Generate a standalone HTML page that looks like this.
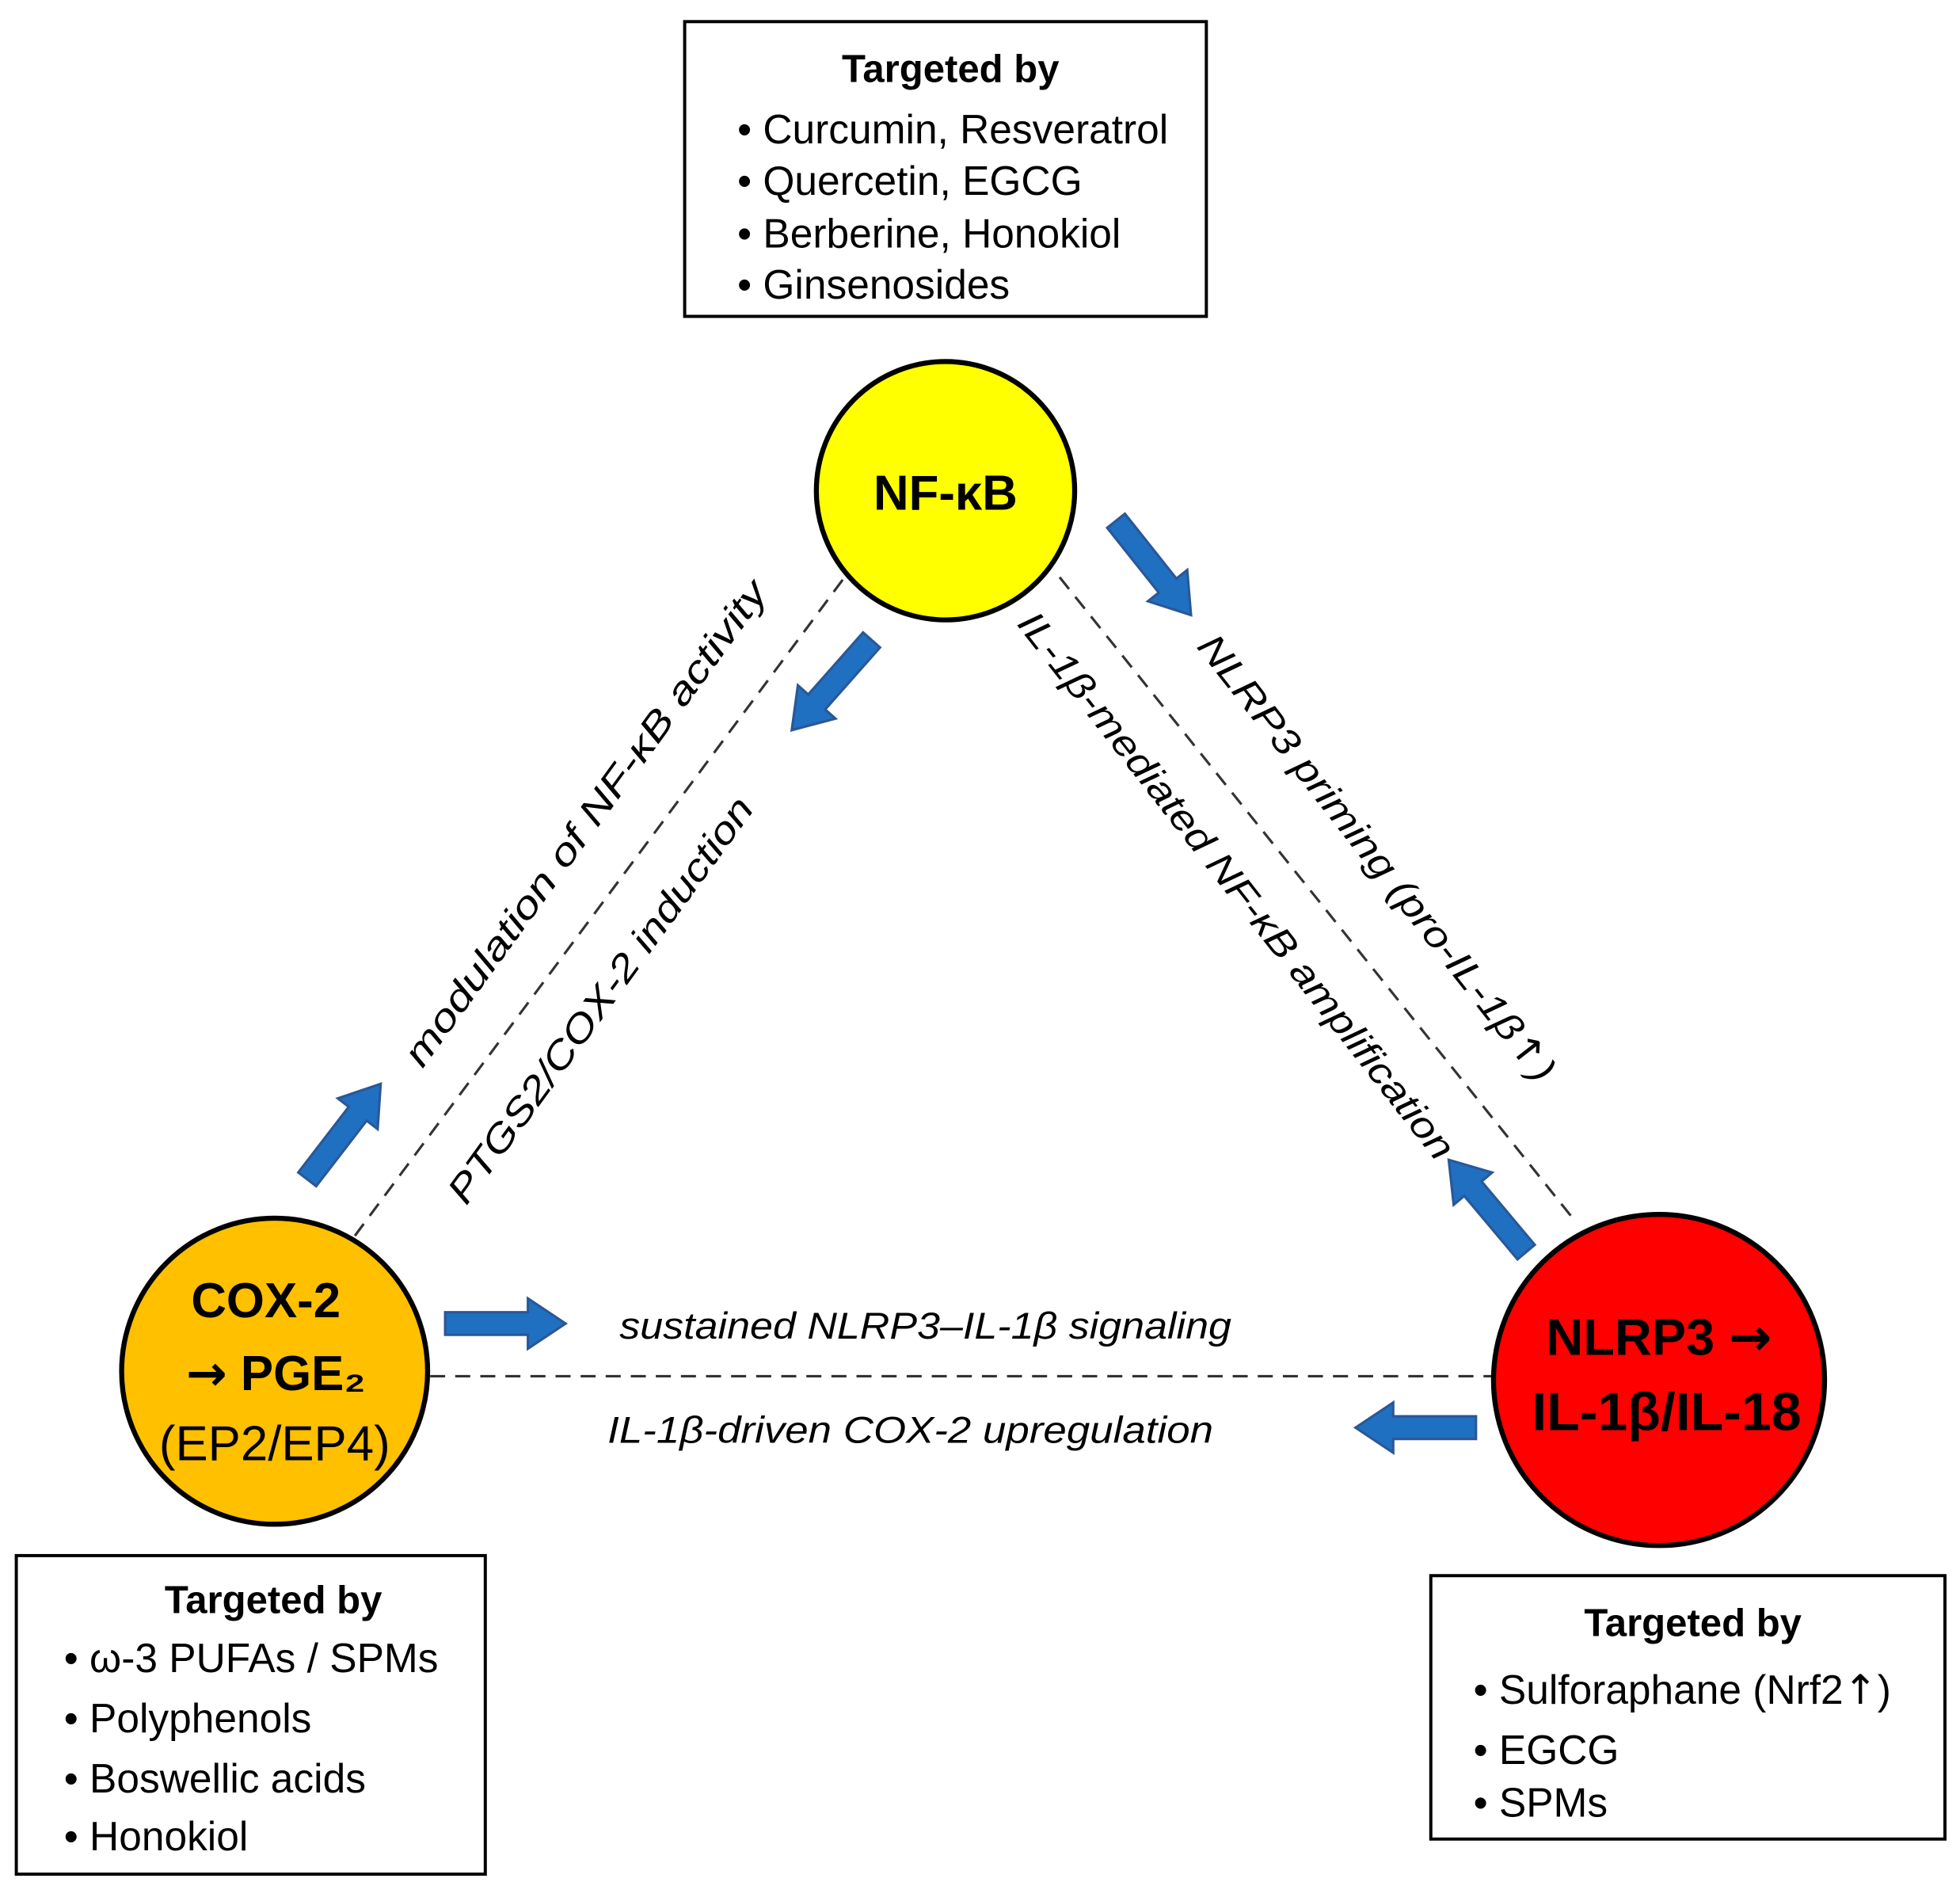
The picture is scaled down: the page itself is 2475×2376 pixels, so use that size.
<!DOCTYPE html>
<html><head><meta charset="utf-8"><style>
html,body{margin:0;padding:0;background:#fff}
svg{display:block}
text{font-family:"Liberation Sans","DejaVu Sans",sans-serif;fill:#000}
.it{font-style:italic;font-size:30px}
.bx{font-size:32.5px}
.tt{font-size:31px;font-weight:bold}
.dv{font-family:"DejaVu Sans",sans-serif}
</style></head><body>
<svg width="2475" height="2376" viewBox="0 0 1563 1500" xmlns="http://www.w3.org/2000/svg">
<defs>
<path id="ar" d="M0,-9 L66,-9 L66,-20 L96,0 L66,20 L66,9 L0,9 Z" fill="#1F70C1" stroke="#2B5797" stroke-width="2"/>
</defs>
<g stroke="#333" stroke-width="2" stroke-dasharray="12,8" fill="none">
<line x1="672" y1="462" x2="283" y2="985"/>
<line x1="845" y1="460" x2="1255" y2="972"/>
<line x1="343" y1="1097" x2="1190" y2="1097"/>
</g>
<g fill="#fff" stroke="#000" stroke-width="2.5">
<rect x="546" y="17" width="416" height="235"/>
<rect x="13" y="1240" width="374" height="254"/>
<rect x="1141" y="1256" width="410" height="210"/>
</g>
<text class="tt" x="758" y="65" text-anchor="middle">Targeted by</text>
<g class="bx">
<text x="588" y="114">• Curcumin, Resveratrol</text>
<text x="588" y="155">• Quercetin, EGCG</text>
<text x="588" y="197">• Berberine, Honokiol</text>
<text x="588" y="238">• Ginsenosides</text>
</g>
<text class="tt" x="218" y="1286" text-anchor="middle">Targeted by</text>
<g class="bx">
<text x="51" y="1333">• ω-3 PUFAs / SPMs</text>
<text x="51" y="1381">• Polyphenols</text>
<text x="51" y="1429">• Boswellic acids</text>
<text x="51" y="1475">• Honokiol</text>
</g>
<text class="tt" x="1350" y="1304" text-anchor="middle">Targeted by</text>
<g class="bx">
<text x="1175" y="1358">• Sulforaphane (Nrf2<tspan class="dv">↑</tspan>)</text>
<text x="1175" y="1406">• EGCG</text>
<text x="1175" y="1448">• SPMs</text>
</g>
<circle cx="754" cy="391" r="103" fill="#FFFF00" stroke="#000" stroke-width="4"/>
<text x="754" y="406" text-anchor="middle" style="font-size:39px;font-weight:bold">NF-κB</text>
<circle cx="219" cy="1093" r="122" fill="#FFC000" stroke="#000" stroke-width="4"/>
<text x="212" y="1050" text-anchor="middle" style="font-size:39px;font-weight:bold">COX-2</text>
<text x="220" y="1108" text-anchor="middle" style="font-size:39px;font-weight:bold"><tspan class="dv">→</tspan> PGE₂</text>
<text x="219" y="1164" text-anchor="middle" style="font-size:39px">(EP2/EP4)</text>
<circle cx="1323" cy="1100" r="132" fill="#FF0000" stroke="#000" stroke-width="4"/>
<text x="1323" y="1080" text-anchor="middle" style="font-size:41px;font-weight:bold">NLRP3 <tspan class="dv">→</tspan></text>
<text x="1329" y="1140" text-anchor="middle" style="font-size:43px;font-weight:bold">IL-1β/IL-18</text>
<use href="#ar" transform="translate(890,415) rotate(51.5)"/>
<use href="#ar" transform="translate(695,510) rotate(131.5)"/>
<use href="#ar" transform="translate(245,940) rotate(-52.4)"/>
<use href="#ar" transform="translate(355,1055) rotate(0)"/>
<use href="#ar" transform="translate(1217,998) rotate(-130)"/>
<use href="#ar" transform="translate(1177,1138) rotate(180)"/>
<text class="it" text-anchor="middle" textLength="470" lengthAdjust="spacingAndGlyphs" transform="translate(475,662) rotate(-54)">modulation of NF-κB activity</text>
<text class="it" text-anchor="middle" textLength="392" lengthAdjust="spacingAndGlyphs" transform="translate(487,803) rotate(-54)">PTGS2/COX-2 induction</text>
<text class="it" text-anchor="middle" textLength="545" lengthAdjust="spacingAndGlyphs" transform="translate(978,712) rotate(52)">IL-1β-mediated NF-κB amplification</text>
<text class="it" text-anchor="middle" textLength="443" lengthAdjust="spacingAndGlyphs" transform="translate(1090,690) rotate(52)">NLRP3 priming (pro-IL-1β<tspan class="dv">↑</tspan>)</text>
<text class="it" x="738" y="1067" text-anchor="middle" textLength="488" lengthAdjust="spacingAndGlyphs">sustained NLRP3–IL-1β signaling</text>
<text class="it" x="726" y="1150" text-anchor="middle" textLength="483" lengthAdjust="spacingAndGlyphs">IL-1β-driven COX-2 upregulation</text>
</svg>
</body></html>
